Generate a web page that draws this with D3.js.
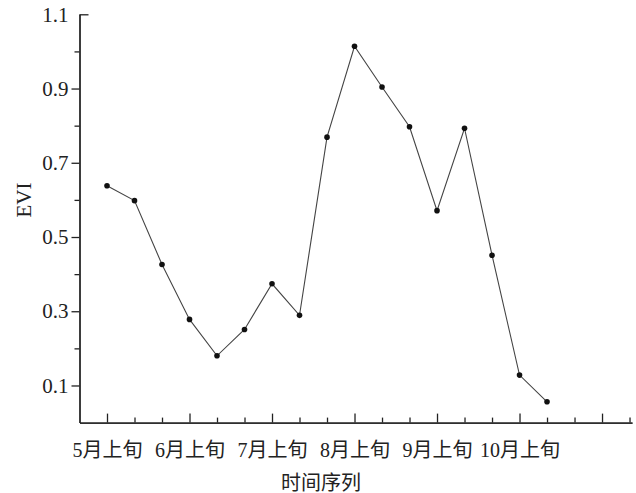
<!DOCTYPE html>
<html>
<head>
<meta charset="utf-8">
<script src="https://d3js.org/d3.v7.min.js"></script>
<style>
body { margin: 0; background: #fff; }
text { font-family: "Liberation Serif", "Noto Sans CJK SC", serif; fill: #222; }
.axis path, .axis line { stroke: #222; stroke-width: 1.3; }
</style>
</head>
<body>
<div id="chart"></div>
<script>

// dekads (旬) along the time axis, 5月上旬 .. 11月中旬
var periods = ['5月上旬','5月中旬','5月下旬','6月上旬','6月中旬','6月下旬',
    '7月上旬','7月中旬','7月下旬','8月上旬','8月中旬','8月下旬',
    '9月上旬','9月中旬','9月下旬','10月上旬','10月中旬','10月下旬',
    '11月上旬','11月中旬']
var xLabels = ['5月上旬','6月上旬','7月上旬','8月上旬','9月上旬','10月上旬']
var evi = [0.638, 0.598, 0.426, 0.278, 0.180, 0.251, 0.374, 0.289, 0.769,
    1.014, 0.904, 0.797, 0.571, 0.793, 0.451, 0.128, 0.056]
var yMajor = [0.1, 0.3, 0.5, 0.7, 0.9, 1.1]
var yMinor = [0.2, 0.4, 0.6, 0.8, 1.0]

var svg = d3.select('#chart').append('svg')
    .attr('width', 636)
    .attr('height', 493)

var xs = d3.scaleLinear().domain([-1, 19.09]).range([79.5, 632])
var ys = d3.scaleLinear().domain([0, 1.1]).range([422.6, 14.3])

var idx = d3.range(periods.length)
var majorIdx = idx.filter(function(i) { return i % 3 == 0 })
var minorIdx = idx.filter(function(i) { return i % 3 != 0 })

// x axis, ticks point inward
svg.append('g')
    .attr('class', 'axis')
    .attr('transform', 'translate(0,422.6)')
    .call(d3.axisBottom(xs).tickValues(minorIdx).tickSizeInner(-5).tickSizeOuter(0).tickFormat(''))

svg.append('g')
    .attr('class', 'axis')
    .attr('transform', 'translate(0,422.6)')
    .call(d3.axisBottom(xs).tickValues(majorIdx).tickSizeInner(-9).tickSizeOuter(0).tickPadding(20)
        .tickFormat(function(i) { return xLabels.indexOf(periods[i]) >= 0 ? periods[i] : '' }))
    .selectAll('text')
        .style('font-size', '20px')

// y axis
svg.append('g')
    .attr('class', 'axis')
    .attr('transform', 'translate(79.5,0)')
    .call(d3.axisLeft(ys).tickValues(yMinor).tickSizeInner(5).tickSizeOuter(0).tickFormat(''))

var yAxis = svg.append('g')
    .attr('class', 'axis')
    .attr('transform', 'translate(79.5,0)')
    .call(d3.axisLeft(ys).tickValues(yMajor).tickSizeInner(8).tickSizeOuter(0).tickPadding(3)
        .tickFormat(d3.format('.1f')))
yAxis.selectAll('text').style('font-size', '21px')
// top tick turns inward
yAxis.selectAll('.tick').filter(function(d) { return d == 1.1 })
    .select('line').attr('x2', 9)
yAxis.selectAll('.tick').filter(function(d) { return d == 1.1 })
    .select('text').attr('x', -11)

svg.append('text')
    .attr('transform', 'translate(31,200) rotate(-90)')
    .style('text-anchor', 'middle')
    .style('font-size', '21px')
    .text('EVI')

svg.append('text')
    .attr('x', 321)
    .attr('y', 490)
    .style('text-anchor', 'middle')
    .style('font-size', '20px')
    .text('时间序列')

var line = d3.line()
    .x(function(d, i) { return xs(i) })
    .y(function(d) { return ys(d) })

svg.append('path')
    .datum(evi)
    .attr('d', line)
    .attr('fill', 'none')
    .attr('stroke', '#444')
    .attr('stroke-width', 1.1)

svg.append('g')
    .selectAll('circle')
    .data(evi)
    .enter()
    .append('circle')
    .attr('cx', function(d, i) { return xs(i) })
    .attr('cy', function(d) { return ys(d) })
    .attr('r', 2.8)
    .attr('fill', '#111')

</script>
</body>
</html>
